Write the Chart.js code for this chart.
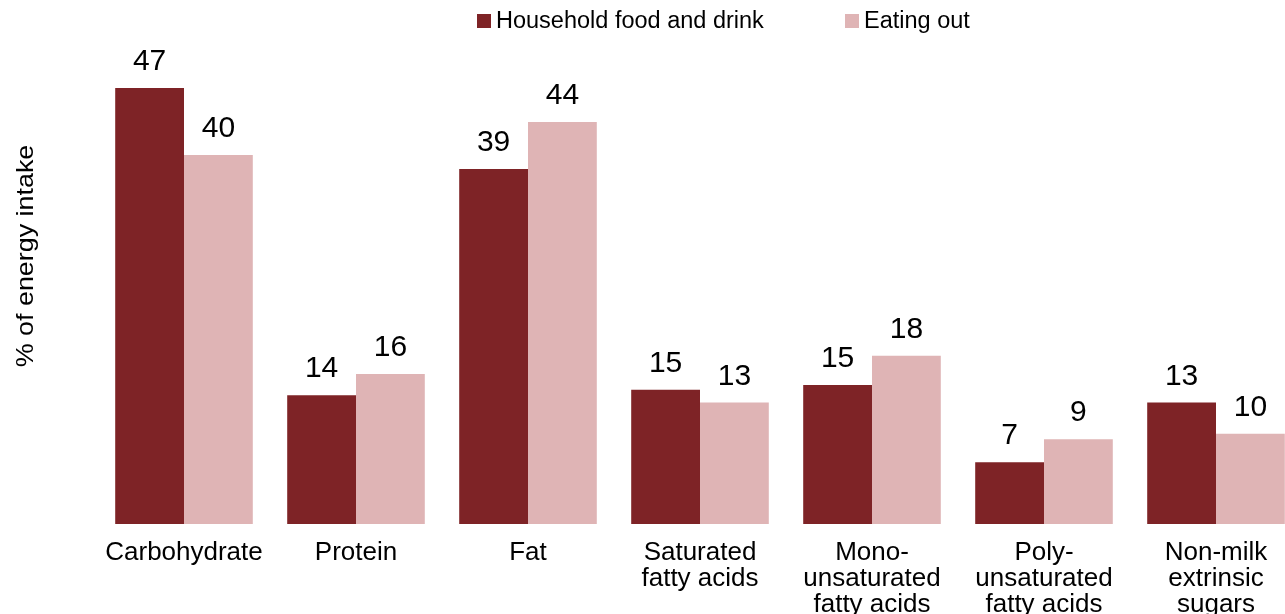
<!DOCTYPE html>
<html>
<head>
<meta charset="utf-8">
<title>Energy intake</title>
<script src="https://cdn.jsdelivr.net/npm/chart.js@4/dist/chart.umd.min.js"></script>
<style>
  html, body { margin: 0; padding: 0; background: #fff; overflow: hidden; }
  #wrap { width: 1302px; height: 614px; }
</style>
</head>
<body>
<div id="wrap"><canvas id="chart" width="1302" height="614"></canvas></div>
<script>
// data (labels show rounded values)
const categories = [
  ["Carbohydrate"],
  ["Protein"],
  ["Fat"],
  ["Saturated", "fatty acids"],
  ["Mono-", "unsaturated", "fatty acids"],
  ["Poly-", "unsaturated", "fatty acids"],
  ["Non-milk", "extrinsic", "sugars"]
];
const household = [47.4, 14.0, 38.6, 14.6, 15.1, 6.7, 13.2];
const eatingOut = [40.1, 16.3, 43.7, 13.2, 18.3, 9.2, 9.8];
const seriesNames = ["Household food and drink", "Eating out"];
const yTitle = "% of energy intake";

const FONT = "'Liberation Sans', Arial, sans-serif";

// value labels above bars
const barLabels = {
  id: "barLabels",
  afterDatasetsDraw(chart) {
    const ctx = chart.ctx;
    ctx.save();
    ctx.font = "30px " + FONT;
    ctx.fillStyle = "#000";
    ctx.textAlign = "center";
    ctx.textBaseline = "alphabetic";
    chart.data.datasets.forEach((ds, i) => {
      chart.getDatasetMeta(i).data.forEach((bar, j) => {
        ctx.fillText(Math.round(ds.data[j]), bar.x, bar.y - 18);
      });
    });
    ctx.restore();
  }
};

// legend on top + rotated y title
const extras = {
  id: "extras",
  afterDraw(chart) {
    const ctx = chart.ctx;
    ctx.save();
    const xs = [477, 845];
    ctx.font = "23.5px " + FONT;
    ctx.textBaseline = "alphabetic";
    chart.data.datasets.forEach((ds, i) => {
      ctx.fillStyle = ds.backgroundColor;
      ctx.fillRect(xs[i], 14, 14, 14);
      ctx.fillStyle = "#000";
      ctx.textAlign = "left";
      ctx.fillText(ds.label, xs[i] + 19, 28);
    });

    ctx.translate(26, 256);
    ctx.rotate(-Math.PI / 2);
    ctx.scale(1.12, 1);
    ctx.font = "24px " + FONT;
    ctx.textAlign = "center";
    ctx.textBaseline = "middle";
    ctx.fillText(yTitle, 0, 0);
    ctx.restore();
  }
};

new Chart(document.getElementById("chart"), {
  type: "bar",
  data: {
    labels: categories,
    datasets: [
      { label: seriesNames[0], data: household, backgroundColor: "#7E2326" },
      { label: seriesNames[1], data: eatingOut, backgroundColor: "#DFB4B5" }
    ]
  },
  options: {
    responsive: false,
    animation: false,
    layout: { padding: { top: 64, left: 0, right: 0, bottom: 0 } },
    datasets: { bar: { categoryPercentage: 0.8, barPercentage: 1.0 } },
    plugins: {
      legend: { display: false },
      tooltip: { enabled: false }
    },
    scales: {
      x: {
        grid: { display: false },
        border: { display: false },
        ticks: {
          color: "#000",
          font: { family: FONT, size: 26, lineHeight: 1.0 },
          padding: 8,
          maxRotation: 0,
          autoSkip: false
        },
        afterFit: (s) => { s.height = 90; }
      },
      y: {
        min: 0,
        max: 50,
        grid: { display: false },
        border: { display: false },
        ticks: { display: false },
        afterFit: (s) => { s.width = 98; }
      }
    }
  },
  plugins: [barLabels, extras]
});
</script>
</body>
</html>
